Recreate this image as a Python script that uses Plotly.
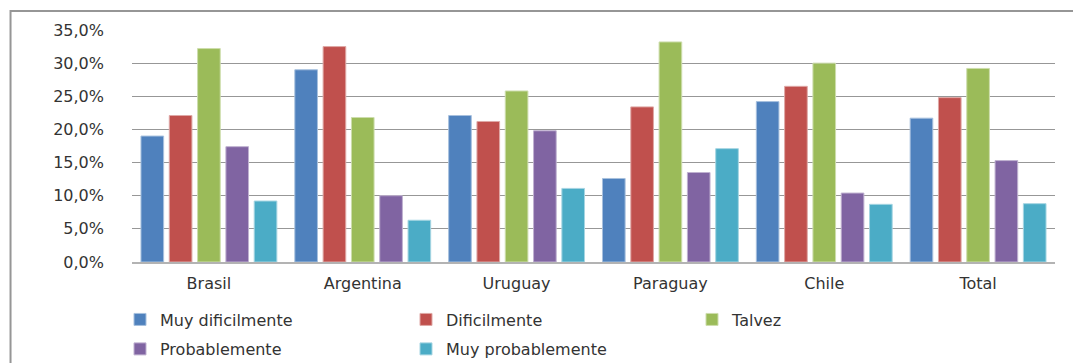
import plotly.graph_objects as go

categories = ["Brasil", "Argentina", "Uruguay", "Paraguay", "Chile", "Total"]
series_names = ["Muy dificilmente", "Dificilmente", "Talvez", "Probablemente", "Muy probablemente"]
muy_dificilmente = [19.0, 29.0, 22.1, 12.6, 24.2, 21.7]
dificilmente = [22.1, 32.5, 21.2, 23.4, 26.5, 24.8]
talvez = [32.2, 21.8, 25.8, 33.2, 30.0, 29.2]
probablemente = [17.4, 10.0, 19.8, 13.5, 10.4, 15.3]
muy_probablemente = [9.2, 6.3, 11.1, 17.1, 8.7, 8.8]
y_ticks = [0, 5, 10, 15, 20, 25, 30, 35]
y_tick_labels = ["0,0%", "5,0%", "10,0%", "15,0%", "20,0%", "25,0%", "30,0%", "35,0%"]

series_values = [muy_dificilmente, dificilmente, talvez, probablemente, muy_probablemente]
colors = ["#4F81BD", "#C0504D", "#9BBB59", "#8064A2", "#4BACC6"]
edge_colors = ["#A7C0DE", "#DFA8A6", "#CDDDAC", "#BFB1D0", "#A5D5E2"]
legend_ids = ["legend", "legend", "legend", "legend2", "legend2"]

FONT = "DejaVu Sans"
TXT = "#333333"

fig = go.Figure()
for name, vals, c, ec, lg in zip(series_names, series_values, colors, edge_colors, legend_ids):
    fig.add_trace(go.Bar(
        x=categories, y=vals, name=name,
        marker=dict(color=c, line=dict(color=ec, width=1)),
        legend=lg,
    ))

legend_common = dict(
    orientation="h", xanchor="left", yanchor="middle",
    font=dict(family=FONT, size=16, color=TXT),
    entrywidth=241, entrywidthmode="pixels",
    bgcolor="rgba(0,0,0,0)", borderwidth=0,
    itemclick=False, itemdoubleclick=False,
)

fig.update_layout(
    width=1073, height=363,
    margin=dict(l=132, r=18, t=30, b=101, autoexpand=False),
    paper_bgcolor="white", plot_bgcolor="white",
    barmode="group", bargap=0.08, bargroupgap=0.2,
    showlegend=True,
    legend=dict(x=-0.013, y=-0.248, **legend_common),
    legend2=dict(x=-0.013, y=-0.375, **legend_common),
    xaxis=dict(
        showline=True, linecolor="#B3B3B3", linewidth=2,
        showgrid=False, ticks="",
        tickfont=dict(family=FONT, size=16, color=TXT),
        ticklabelstandoff=6,
    ),
    yaxis=dict(
        range=[0, 35], tickvals=y_ticks, ticktext=y_tick_labels,
        showgrid=True, gridcolor="#979797", gridwidth=1,
        zeroline=False, showline=False, ticks="",
        tickfont=dict(family=FONT, size=16, color=TXT),
        ticklabelstandoff=27,
    ),
    shapes=[dict(
        type="rect", xref="paper", yref="paper",
        x0=-0.1316, x1=1.03, y0=-0.47, y1=1.0819,
        line=dict(color="#969696", width=2), fillcolor="rgba(0,0,0,0)", layer="below",
    )],
)

fig.write_html("out.html")
